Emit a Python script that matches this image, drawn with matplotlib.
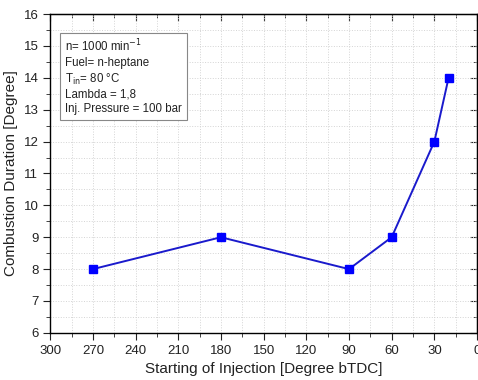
import matplotlib
matplotlib.use("Agg")
import matplotlib.pyplot as plt
from matplotlib.ticker import MultipleLocator

plt.rcParams['font.family'] = ['Liberation Sans', 'DejaVu Sans']

soi = [270, 180, 90, 60, 30, 20]
duration = [8, 9, 8, 9, 12, 14]

fig = plt.figure(figsize=(4.78, 3.8), dpi=100)
ax = fig.add_axes([0.105, 0.124, 0.893, 0.839])

ax.plot(soi, duration, color="#1a1acc", lw=1.4, marker="s", ms=5.5,
        markerfacecolor="#0000ff", markeredgecolor="#0000ff", zorder=3)

ax.set_xlim(300, 0)
ax.set_ylim(6, 16)
ax.xaxis.set_major_locator(MultipleLocator(30))
ax.xaxis.set_minor_locator(MultipleLocator(15))
ax.yaxis.set_major_locator(MultipleLocator(1))
ax.yaxis.set_minor_locator(MultipleLocator(0.5))
ax.tick_params(which="both", direction="out", labelsize=9.5, colors="#222222")
ax.tick_params(which="major", length=5)
ax.tick_params(which="minor", length=3)
ax.grid(True, which="both", color="#d4d4d4", linestyle=":", lw=0.7)

# inward ticks on top and right, no labels
top = ax.secondary_xaxis("top")
top.xaxis.set_major_locator(MultipleLocator(30))
top.xaxis.set_minor_locator(MultipleLocator(15))
top.tick_params(which="both", direction="in", labeltop=False, colors="#222222")
top.tick_params(which="major", length=5)
top.tick_params(which="minor", length=3)
right = ax.secondary_yaxis("right")
right.yaxis.set_major_locator(MultipleLocator(1))
right.yaxis.set_minor_locator(MultipleLocator(0.5))
right.tick_params(which="both", direction="in", labelright=False, colors="#222222")
right.tick_params(which="major", length=5)
right.tick_params(which="minor", length=3)

for s in ax.spines.values():
    s.set_linewidth(1.0)

ax.set_xlabel("Starting of Injection [Degree bTDC]", fontsize=11, color="#222222")
ax.set_ylabel("Combustion Duration [Degree]", fontsize=11, color="#222222")

txt = ("n= 1000 min$^{-1}$\nFuel= n-heptane\nT$_{\\rm in}$= 80 \u00b0C\n"
       "Lambda = 1,8\nInj. Pressure = 100 bar")
ax.text(0.035, 0.925, txt, transform=ax.transAxes, fontsize=8.3, va="top", ha="left",
        linespacing=1.25, color="#222222",
        bbox=dict(boxstyle="square,pad=0.45", fc="white", ec="#888888", lw=0.8))

fig.savefig("out.png", dpi=100)
